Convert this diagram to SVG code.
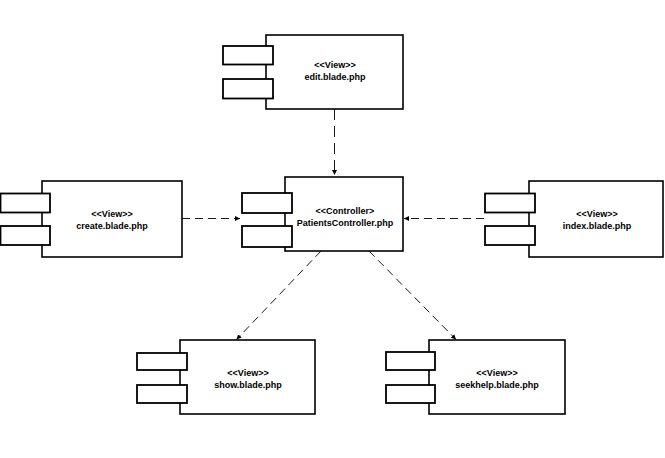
<svg xmlns="http://www.w3.org/2000/svg" width="665" height="458" viewBox="0 0 665 458">
<defs>
<style>
.box{fill:#fff;stroke:#000;stroke-width:1.6}
.port{fill:#fff;stroke:#000;stroke-width:1.8}
.lbl{font-family:"Liberation Sans",Arial,sans-serif;font-size:9px;font-weight:bold;text-anchor:middle;fill:#000}
.dep{fill:none;stroke:#000;stroke-width:0.9;stroke-dasharray:8 5}
.dep.v{stroke-dasharray:11 6}
</style>
<marker id="arr" viewBox="0 0 10 10" refX="10" refY="5" markerWidth="5" markerHeight="5" orient="auto" markerUnits="userSpaceOnUse">
<path d="M0,0 L10,5 L0,10 z" fill="#000"/>
</marker>
</defs>
<rect width="665" height="458" fill="#fff"/>
<g id="connectors">
<line class="dep v" x1="334.5" y1="109" x2="334.5" y2="175" marker-end="url(#arr)"/>
<line class="dep" x1="182" y1="218.5" x2="240" y2="218.5" marker-end="url(#arr)"/>
<line class="dep" x1="484" y1="218.5" x2="404" y2="218.5" marker-end="url(#arr)"/>
<line class="dep" x1="321" y1="251" x2="236.5" y2="339.5" marker-end="url(#arr)"/>
<line class="dep" x1="369" y1="251" x2="456" y2="339.5" marker-end="url(#arr)"/>
</g>
<g id="edit">
<rect class="box" x="266" y="35" width="137" height="74"/>
<rect class="port" x="223" y="46" width="50" height="18.5"/>
<rect class="port" x="223" y="79" width="50" height="19.5"/>
<text class="lbl" x="335" y="67.5">&lt;&lt;View&gt;&gt;</text>
<text class="lbl" x="335" y="80">edit.blade.php</text>
</g>
<g id="controller">
<rect class="box" x="285" y="177" width="118" height="74"/>
<rect class="port" x="242" y="193" width="50" height="20"/>
<rect class="port" x="242" y="226" width="50" height="21"/>
<text class="lbl" x="345" y="214">&lt;&lt;Controller&gt;</text>
<text class="lbl" x="345" y="226">PatientsController.php</text>
</g>
<g id="create">
<rect class="box" x="42" y="181" width="140" height="76"/>
<rect class="port" x="0.5" y="193.5" width="49.5" height="19"/>
<rect class="port" x="0.5" y="226" width="49.5" height="19"/>
<text class="lbl" x="112" y="216.5">&lt;&lt;View&gt;&gt;</text>
<text class="lbl" x="112" y="229">create.blade.php</text>
</g>
<g id="index">
<rect class="box" x="529" y="181" width="134" height="76"/>
<rect class="port" x="485" y="193.5" width="50" height="19"/>
<rect class="port" x="485" y="226" width="50" height="19"/>
<text class="lbl" x="597" y="216.5">&lt;&lt;View&gt;&gt;</text>
<text class="lbl" x="597" y="229">index.blade.php</text>
</g>
<g id="show">
<rect class="box" x="180" y="340" width="135" height="74"/>
<rect class="port" x="137" y="353" width="50" height="17"/>
<rect class="port" x="137" y="385" width="50" height="18"/>
<text class="lbl" x="248" y="375.5">&lt;&lt;View&gt;&gt;</text>
<text class="lbl" x="248" y="388">show.blade.php</text>
</g>
<g id="seekhelp">
<rect class="box" x="429" y="340" width="136" height="74"/>
<rect class="port" x="386" y="352" width="49" height="18"/>
<rect class="port" x="386" y="385" width="49" height="18"/>
<text class="lbl" x="497" y="375.5">&lt;&lt;View&gt;&gt;</text>
<text class="lbl" x="497" y="388">seekhelp.blade.php</text>
</g>
</svg>
